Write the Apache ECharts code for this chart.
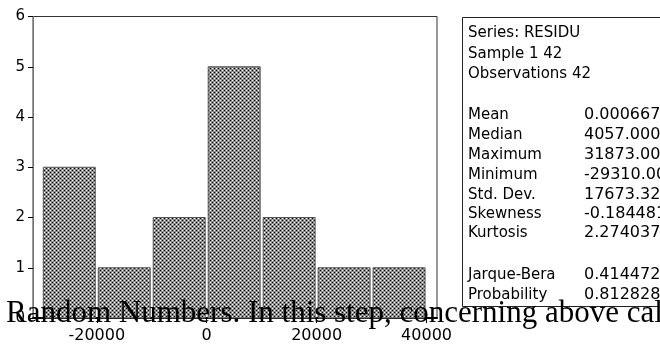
<!DOCTYPE html>
<html>
<head>
<meta charset="utf-8">
<script src="https://cdn.jsdelivr.net/npm/echarts@6/dist/echarts.min.js"></script>
<style>
  html, body { margin: 0; padding: 0; background: #fff; }
  #chart { width: 660px; height: 347px; }
</style>
</head>
<body>
<div id="chart"></div>
<script>
// Histogram of residuals: bin lower edges and counts
const binStarts = [-30000, -20000, -10000, 0, 10000, 20000, 30000]
const binWidth = 10000
const counts = [3, 1, 2, 5, 2, 1, 1]
const xTicks = [-20000, 0, 20000, 40000]

// Descriptive stats panel
const statHeader = ["Series: RESIDU", "Sample 1 42", "Observations 42"]
const statNames = ["Mean", "Median", "Maximum", "Minimum", "Std. Dev.", "Skewness", "Kurtosis"]
const statValues = ["0.000667", "4057.000", "31873.00", "-29310.00", "17673.32", "-0.184481", "2.274037"]
const testNames = ["Jarque-Bera", "Probability"]
const testValues = ["0.414472", "0.812828"]

const overlayText = "Random Numbers. In this step, concerning above cal"

// Small crosshatch tile for the bar fill
function hatchTile() {
  const c = document.createElement("canvas")
  c.width = 4
  c.height = 4
  const ctx = c.getContext("2d")
  ctx.fillStyle = "#8c8c8c"
  ctx.fillRect(0, 0, 4, 4)
  ctx.fillStyle = "#ffffff"
  ctx.fillRect(0, 0, 1, 1)
  ctx.fillRect(2, 2, 1, 1)
  ctx.fillStyle = "#000000"
  ctx.fillRect(2, 0, 1, 1)
  ctx.fillRect(0, 2, 1, 1)
  return c
}
const hatch = { image: hatchTile(), repeat: "repeat" }

const chart = echarts.init(document.getElementById("chart"), null, { renderer: "canvas" })

const font = "DejaVu Sans"
const graphics = []

// panel frame
graphics.push({
  type: "rect",
  shape: { x: 462.5, y: 17.5, width: 230, height: 289 },
  style: { fill: "none", stroke: "#222", lineWidth: 1 },
  z: 10,
})
const rowY = [33, 54, 74, 115, 135, 155, 175, 195, 214, 233, 275, 295]
const labels = [...statHeader, ...statNames, ...testNames]
labels.forEach((t, i) => {
  graphics.push({
    type: "text",
    style: { text: t, x: 468, y: rowY[i], font: `15px "${font}"`, fill: "#000", verticalAlign: "middle" },
    z: 11,
  })
})
const vals = [...statValues, ...testValues]
vals.forEach((v, i) => {
  graphics.push({
    type: "text",
    style: { text: v, x: 584, y: rowY[i + 3], font: `16px "${font}"`, fill: "#000", verticalAlign: "middle" },
    z: 11,
  })
})
// serif body text that runs across the bottom of the figure
graphics.push({
  type: "text",
  style: { text: overlayText, x: 6, y: 314, font: '31px "Liberation Serif"', fill: "#000", verticalAlign: "middle" },
  z: 20,
})

chart.setOption({
  backgroundColor: "#fff",
  animation: false,
  grid: {
    left: 33, right: 223, top: 16.5, bottom: 29,
    show: true, borderColor: "#333", borderWidth: 1,
    containLabel: false, outerBoundsMode: "none",
  },
  xAxis: {
    type: "value",
    min: -31600,
    max: 41900,
    splitLine: { show: false },
    axisLine: { show: true, onZero: false, lineStyle: { color: "#000", width: 2 } },
    axisTick: { show: true, length: 5, customValues: xTicks, lineStyle: { color: "#000" } },
    axisLabel: {
      customValues: xTicks,
      formatter: (v) => String(v),
      color: "#000", fontFamily: font, fontSize: 16, margin: 10,
    },
  },
  yAxis: {
    type: "value",
    min: 0,
    max: 6,
    interval: 1,
    splitLine: { show: false },
    axisLine: { show: true, onZero: false, lineStyle: { color: "#777", width: 1 } },
    axisTick: { show: true, length: 5, lineStyle: { color: "#000" } },
    axisLabel: { color: "#000", fontFamily: font, fontSize: 15, margin: 8 },
  },
  series: [
    {
      type: "custom",
      data: binStarts.map((s, i) => [s, s + binWidth, counts[i]]),
      encode: { x: [0, 1], y: 2 },
      renderItem: (params, api) => {
        const p0 = api.coord([api.value(0), 0])
        const p1 = api.coord([api.value(1), api.value(2)])
        return {
          type: "rect",
          shape: { x: p0[0] + 1.5, y: p1[1], width: p1[0] - p0[0] - 3, height: p0[1] - p1[1] },
          style: { fill: hatch, stroke: "#555", lineWidth: 1 },
        }
      },
    },
  ],
  graphic: graphics,
})
</script>
</body>
</html>
